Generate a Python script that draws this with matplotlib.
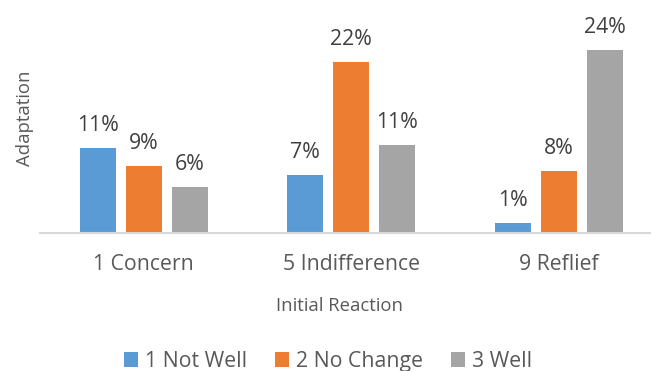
import matplotlib
matplotlib.use("Agg")
import matplotlib.pyplot as plt
import numpy as np

categories = ["1 Concern", "5 Indifference", "9 Reflief"]
series_names = ["1 Not Well", "2 No Change", "3 Well"]
not_well = [10.93, 7.45, 1.29]
no_change = [8.6, 22.0, 7.94]
well = [5.86, 11.3, 23.6]
colors = ["#5B9BD5", "#ED7D31", "#A5A5A5"]

plt.rcParams['font.family'] = ['Open Sans', 'DejaVu Sans']

W, H = 651, 371
fig = plt.figure(figsize=(W / 100, H / 100), dpi=100)
ax = fig.add_axes([40 / W, (H - 232.5) / H, 622.5 / W, 212.5 / H])
ax.set_xlim(-0.5, 2.5)
ax.set_ylim(0, 212.5 / 7.75)

x = np.arange(len(categories))
bw = 36 / 207.5
off = 46 / 207.5
all_series = [not_well, no_change, well]
handles = []
for i, (vals, c, name) in enumerate(zip(all_series, colors, series_names)):
    pos = x + (i - 1) * off
    b = ax.bar(pos, vals, width=bw, color=c, label=name, zorder=2)
    handles.append(b)
    for px, v in zip(pos, vals):
        ax.annotate(f"{round(v)}%", (px, v), xytext=(0, 12.2), textcoords="offset points",
                    ha="center", va="baseline", fontsize=15.3, color="#404040")

for s in ["top", "right", "left"]:
    ax.spines[s].set_visible(False)
ax.spines["bottom"].set_color("#D9D9D9")
ax.spines["bottom"].set_linewidth(1.5)
ax.set_yticks([])
ax.set_xticks(x)
ax.set_xticklabels(categories, fontsize=15.3, color="#595959")
ax.tick_params(axis="x", length=0, pad=15.5)

fig.text(25 / W, 1 - 118 / H, "Adaptation", rotation=90, ha="center", va="center",
         fontsize=13.3, color="#595959")
fig.text(340 / W, 1 - 306 / H, "Initial Reaction", ha="center", va="center",
         fontsize=13.3, color="#595959")

fig.legend(handles=handles, labels=series_names, loc="center", bbox_to_anchor=(328 / W, 1 - 361.5 / H),
           ncol=3, frameon=False, fontsize=15.3, handlelength=0.66, handleheight=0.66,
           handletextpad=0.34, columnspacing=1.3, labelcolor="#595959",
           borderpad=0, borderaxespad=0)

fig.savefig("out.png", dpi=100)
